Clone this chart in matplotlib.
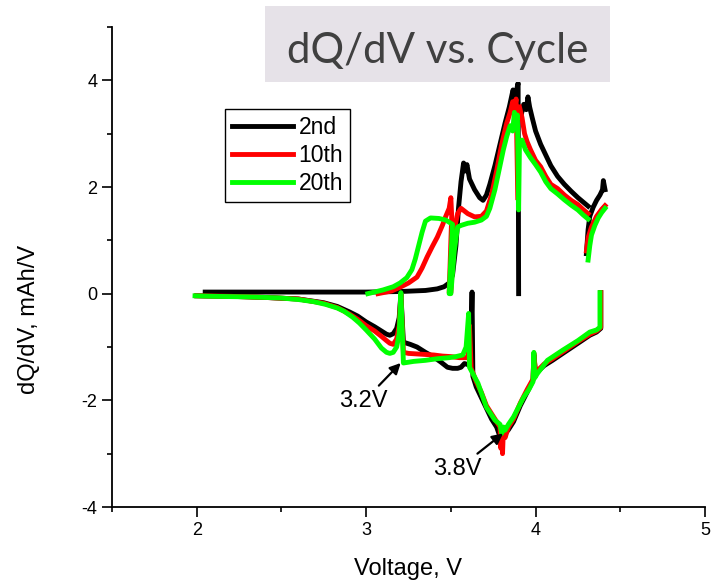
import numpy as np
import matplotlib
matplotlib.use('Agg')
import matplotlib.pyplot as plt
from matplotlib.ticker import MultipleLocator
from matplotlib.patches import Rectangle

nan = np.nan

# ---- data (voltage V, dQ/dV mAh/V); NaN = gap in the recorded trace ----
labels = ['2nd', '10th', '20th']
colors = ['#000000', '#FF0000', '#00FF00']

v2_chg = [2.05, 2.5, 3.0, 3.2, 3.35, 3.42, 3.46, 3.49, 3.51, 3.53, 3.545, 3.56, 3.575, 3.585, 3.595,
          3.61, 3.64, 3.67, 3.69, 3.71, 3.73, 3.76, 3.79, 3.82, 3.845, 3.867, 3.878, 3.89, 3.897, 3.90,
          nan, 3.915, 3.93, 3.945, 3.955, 3.965, 3.98, 4.0, 4.03, 4.06, 4.09, 4.13, 4.17, 4.21, 4.25,
          4.28, 4.31, nan, 4.30, 4.31, 4.32, 4.34, 4.36, 4.38, 4.395, 4.40, 4.41]
q2_chg = [0.03, 0.03, 0.03, 0.04, 0.06, 0.09, 0.13, 0.2, 0.35, 0.9, 1.6, 2.1, 2.45, 2.3, 2.42,
          2.15, 1.95, 1.8, 1.75, 1.85, 2.05, 2.4, 2.8, 3.2, 3.5, 3.82, 3.65, 3.85, 3.95, 0.0,
          nan, 3.35, 3.55, 3.45, 3.69, 3.5, 3.3, 3.05, 2.8, 2.6, 2.4, 2.2, 2.05, 1.92, 1.8,
          1.72, 1.64, nan, 0.75, 1.2, 1.45, 1.62, 1.75, 1.85, 1.95, 2.12, 1.95]

v10_chg = [3.07, 3.15, 3.2, 3.25, 3.30, 3.33, 3.36, 3.39, 3.42, 3.45, 3.47, 3.49, 3.50, 3.505, 3.49,
           3.50, 3.52, 3.54, 3.56, 3.60, 3.64, 3.68, 3.71, 3.74, 3.77, 3.80, 3.83, 3.85, 3.865, 3.875,
           3.885, 3.895, nan, 3.905, 3.92, 3.935, 3.95, 3.97, 4.0, 4.03, 4.06, 4.09, 4.13, 4.17, 4.21,
           4.25, 4.28, 4.31, nan, 4.30, 4.31, 4.33, 4.36, 4.39, 4.41]
q10_chg = [0.0, 0.05, 0.12, 0.2, 0.31, 0.48, 0.69, 0.88, 1.06, 1.28, 1.45, 1.6, 1.8, 1.45, 0.02,
           0.02, 1.2, 1.5, 1.6, 1.5, 1.44, 1.45, 1.55, 1.85, 2.3, 2.8, 3.2, 3.4, 3.6, 3.45,
           3.65, 1.8, nan, 3.5, 3.3, 3.0, 2.85, 2.7, 2.5, 2.38, 2.2, 2.05, 1.97, 1.85, 1.75,
           1.67, 1.58, 1.5, nan, 0.8, 1.05, 1.25, 1.45, 1.58, 1.65]

v20_chg = [3.01, 3.1, 3.16, 3.2, 3.24, 3.27, 3.29, 3.31, 3.33, 3.35, 3.38, 3.43, 3.47, 3.51, 3.49,
           3.50, 3.52, 3.54, 3.56, 3.60, 3.64, 3.68, 3.71, 3.73, 3.76, 3.79, 3.81, 3.83, 3.85, 3.865,
           3.875, 3.885, 3.893, 3.90, 3.905, 3.92, 3.94, 3.97, 4.0, 4.03, 4.06, 4.09, 4.13, 4.17, 4.21,
           4.25, 4.28, 4.31, nan, 4.31, 4.32, 4.33, 4.35, 4.37, 4.39, 4.41]
q20_chg = [0.0, 0.07, 0.13, 0.2, 0.3, 0.45, 0.65, 0.9, 1.15, 1.36, 1.42, 1.41, 1.38, 1.3, 0.0,
           0.0, 0.8, 1.25, 1.28, 1.32, 1.34, 1.38, 1.45, 1.6, 1.95, 2.4, 2.7, 2.95, 3.15, 3.05,
           3.4, 3.2, 3.35, 1.57, 2.82, 2.88, 2.7, 2.55, 2.42, 2.28, 2.1, 1.97, 1.87, 1.76, 1.66,
           1.57, 1.48, 1.40, nan, 0.63, 0.9, 1.1, 1.28, 1.42, 1.52, 1.6]

v2_dis = [4.385, 4.385, 4.36, 4.32, 4.25, 4.17, 4.10, 4.05, 4.0, 3.99, 3.985, 3.95, 3.91, 3.87, 3.84,
          3.82, 3.81, 3.80, 3.79, 3.77, 3.74, 3.71, 3.68, 3.65, 3.63, 3.625, 3.615, 3.60, 3.58, 3.56,
          3.54, 3.51, 3.48, 3.44, 3.40, 3.35, 3.30, 3.26, 3.22, 3.205, 3.195, 3.18, 3.16, 3.14, 3.12,
          3.09, 3.05, 3.0, 2.95, 2.9, 2.83, 2.75, 2.6, 2.4, 2.2, 2.0]
q2_dis = [0.02, -0.65, -0.72, -0.78, -0.93, -1.1, -1.25, -1.35, -1.5, -1.15, -1.62, -1.85, -2.1, -2.4, -2.55,
          -2.62, -2.7, -2.62, -2.68, -2.5, -2.35, -2.15, -1.95, -1.75, -1.55, 0.03, -1.35, -1.33, -1.31, -1.38,
          -1.4, -1.4, -1.38, -1.28, -1.19, -1.1, -1.0, -0.95, -0.91, 0.0, -0.45, -0.65, -0.75, -0.78, -0.76,
          -0.7, -0.62, -0.53, -0.42, -0.34, -0.24, -0.17, -0.1, -0.07, -0.05, -0.04]

v10_dis = [4.385, 4.385, 4.36, 4.32, 4.25, 4.17, 4.10, 4.05, 4.0, 3.99, 3.985, 3.95, 3.91, 3.87, 3.84,
           3.82, 3.81, 3.805, 3.80, 3.795, 3.79, 3.77, 3.74, 3.71, 3.68, 3.65, 3.62, 3.61, 3.60, 3.58,
           3.55, 3.5, 3.45, 3.4, 3.35, 3.3, 3.25, 3.22, 3.205, 3.195, 3.18, 3.16, 3.14, 3.12, 3.09,
           3.05, 3.0, 2.95, 2.9, 2.83, 2.75, 2.6, 2.4, 2.2, 2.0]
q10_dis = [0.02, -0.63, -0.70, -0.76, -0.9, -1.07, -1.22, -1.32, -1.48, -1.12, -1.6, -1.8, -2.05, -2.35, -2.5,
           -2.7, -2.55, -3.0, -2.6, -2.9, -2.5, -2.4, -2.25, -2.1, -1.85, -1.65, -1.4, -0.6, -1.2, -1.2,
           -1.2, -1.18, -1.17, -1.15, -1.14, -1.13, -1.12, -1.1, 0.0, -0.6, -0.85, -0.95, -0.93, -0.88, -0.8,
           -0.7, -0.6, -0.48, -0.38, -0.26, -0.18, -0.1, -0.07, -0.05, -0.04]

v20_dis = [4.38, 4.38, 4.36, 4.32, 4.25, 4.16, 4.07, 4.01, 3.995, 3.99, 3.985, 3.96, 3.93, 3.87, 3.84,
           3.82, 3.81, 3.80, 3.79, 3.76, 3.71, 3.66, 3.63, 3.61, 3.605, 3.59, 3.57, 3.53, 3.49, 3.42,
           3.35, 3.28, 3.22, 3.205, 3.195, 3.18, 3.16, 3.14, 3.12, 3.09, 3.05, 3.0, 2.96, 2.92, 2.87,
           2.83, 2.76, 2.69, 2.6, 2.49, 2.3, 2.1, 1.99]
q20_dis = [0.02, -0.63, -0.68, -0.72, -0.88, -1.06, -1.25, -1.5, -1.58, -1.1, -1.65, -1.8, -1.94, -2.31, -2.45,
           -2.56, -2.5, -2.62, -2.45, -2.37, -2.13, -1.68, -1.5, -1.38, -0.37, -1.0, -1.15, -1.18, -1.2, -1.22,
           -1.25, -1.27, -1.30, 0.02, -0.75, -1.0, -1.1, -1.12, -1.1, -1.02, -0.85, -0.68, -0.55, -0.44, -0.33,
           -0.27, -0.2, -0.15, -0.11, -0.08, -0.06, -0.05, -0.04]

x_ticks = [2, 3, 4, 5]
y_ticks = [-4, -2, 0, 2, 4]
title = 'dQ/dV vs. Cycle'
notes = [('3.2V', 3.204, -1.30, 2.985, -2.02), ('3.8V', 3.808, -2.62, 3.541, -3.29)]

# ---- style ----
plt.rcParams['font.family'] = ['Liberation Sans', 'DejaVu Sans']
plt.rcParams['axes.unicode_minus'] = False

fig = plt.figure(figsize=(7.14, 5.83), dpi=100)
ax = fig.add_axes([112 / 714, 1 - 507 / 583, 593 / 714, 480 / 583])
ax.set_xlim(1.5, 5)
ax.set_ylim(-4, 5)

series = [(v2_chg, q2_chg, v2_dis, q2_dis),
          (v10_chg, q10_chg, v10_dis, q10_dis),
          (v20_chg, q20_chg, v20_dis, q20_dis)]
handles = []
for (vc, qc, vd, qd), col, lab in zip(series, colors, labels):
    h, = ax.plot(vc, qc, color=col, lw=3.5, label=lab)
    ax.plot(vd, qd, color=col, lw=3.5)
    handles.append(h)

for s in ['top', 'right']:
    ax.spines[s].set_visible(False)
for s in ['left', 'bottom']:
    ax.spines[s].set_linewidth(1.3)

ax.set_xticks(x_ticks)
ax.set_yticks(y_ticks)
ax.xaxis.set_minor_locator(MultipleLocator(0.5))
ax.yaxis.set_minor_locator(MultipleLocator(1))
ax.tick_params(which='major', length=7.2, width=1.2, direction='out', labelsize=13, pad=3.5)
ax.tick_params(which='minor', length=3.6, width=1.2, direction='out')

ax.set_xlabel('Voltage, V', fontsize=17)
ax.set_ylabel('dQ/dV, mAh/V', fontsize=17)
ax.xaxis.set_label_coords(0.5, -0.106)
ax.yaxis.set_label_coords(-0.121, 0.39)

leg = ax.legend(handles, labels, loc='upper left', bbox_to_anchor=(0.1906, 0.829),
                fontsize=16.5, frameon=True, fancybox=False, edgecolor='black', framealpha=1,
                borderaxespad=0, handlelength=2.66, handletextpad=0.25, labelspacing=0.22,
                borderpad=0.3)
leg.get_frame().set_linewidth(1.0)

for txt, hx, hy, tx, ty in notes:
    ax.annotate(txt, xy=(hx, hy), xytext=(tx, ty), ha='center', va='center', fontsize=17,
                arrowprops=dict(arrowstyle='-|>', color='black', lw=1.6, mutation_scale=16,
                                shrinkA=2, shrinkB=0))

rect = Rectangle((265 / 714, 1 - 82 / 583), 345 / 714, 76 / 583, transform=fig.transFigure,
                 facecolor='#E6E2E8', edgecolor='none', zorder=5)
fig.patches.append(rect)
t = fig.text(437.5 / 714, 1 - 63 / 583, title, ha='center', va='baseline', fontsize=30,
             color='#404040', family=['Lato', 'DejaVu Sans'], zorder=6)
fig.canvas.draw()
w = t.get_window_extent().width
t.set_fontsize(30 * 301 / w)

fig.savefig('out.png', dpi=100)
